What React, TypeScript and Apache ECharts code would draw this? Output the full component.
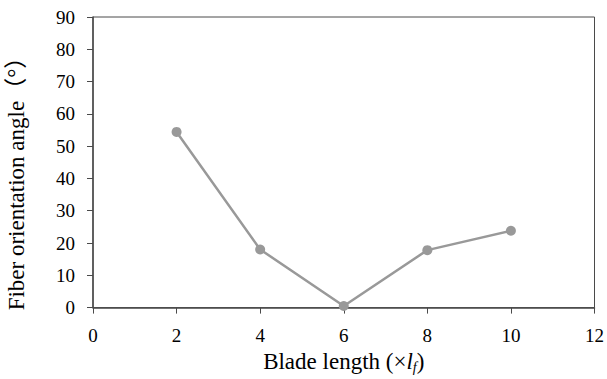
import React, { useEffect, useRef } from "react";
import * as echarts from "echarts";

const bladeLength = [2, 4, 6, 8, 10];
const orientationAngle = [54.4, 18.0, 0.5, 17.8, 23.8];
const xTicks = [0, 2, 4, 6, 8, 10, 12];
const yTicks = [0, 10, 20, 30, 40, 50, 60, 70, 80, 90];

const FONT = "'Liberation Serif', 'Noto Sans CJK SC', serif";

export default function App() {
  const ref = useRef<HTMLDivElement>(null);
  useEffect(() => {
    document.body.style.margin = "0";
    if (!ref.current) return;
    const chart = echarts.init(ref.current, undefined, { renderer: "svg" });
    chart.setOption({
      animation: false,
      backgroundColor: "#fff",
      textStyle: { fontFamily: FONT },
      grid: { left: 93, right: 10, top: 17, bottom: 69, show: true, borderColor: "#4a4a4a", borderWidth: 1 },
      xAxis: {
        type: "value",
        min: xTicks[0],
        max: xTicks[xTicks.length - 1],
        interval: 2,
        name: "{n|Blade length (×}{i|l}{s|f}{n|)}",
        nameLocation: "middle",
        nameGap: 39,
        nameTextStyle: {
          fontFamily: FONT,
          fontSize: 23,
          color: "#000",
          rich: {
            n: { fontFamily: FONT, fontSize: 23, color: "#000", lineHeight: 26 },
            i: { fontFamily: FONT, fontSize: 23, fontStyle: "italic", color: "#000", lineHeight: 26 },
            s: { fontFamily: FONT, fontSize: 14, fontStyle: "italic", color: "#000", verticalAlign: "bottom", lineHeight: 26, padding: [10, 0, 0, 0] },
          },
        },
        axisLine: { show: true, onZero: false, lineStyle: { color: "#4a4a4a", width: 1.5 } },
        axisTick: { show: true, inside: false, length: 6, lineStyle: { color: "#4a4a4a" } },
        axisLabel: { fontFamily: FONT, fontSize: 19, color: "#000", margin: 18 },
        splitLine: { show: false },
      },
      yAxis: {
        type: "value",
        min: yTicks[0],
        max: yTicks[yTicks.length - 1],
        interval: 10,
        axisLine: { show: true, lineStyle: { color: "#4a4a4a", width: 1.5 } },
        axisTick: { show: true, inside: false, length: 6, lineStyle: { color: "#4a4a4a" } },
        axisLabel: { fontFamily: FONT, fontSize: 19, color: "#000", margin: 18 },
        splitLine: { show: false },
      },
      graphic: [
        {
          type: "text",
          x: 16,
          y: 178,
          rotation: Math.PI / 2,
          style: {
            text: "Fiber orientation angle（°）",
            fontFamily: FONT,
            fontSize: 23,
            fill: "#000",
            align: "center",
            verticalAlign: "middle",
          },
        },
      ],
      series: [
        {
          type: "line",
          data: bladeLength.map((x, i) => [x, orientationAngle[i]]),
          symbol: "circle",
          symbolSize: 10,
          itemStyle: { color: "#999999" },
          lineStyle: { color: "#999999", width: 2.5 },
        },
      ],
    });
    return () => chart.dispose();
  }, []);
  return <div ref={ref} style={{ width: 607, height: 379 }} />;
}
